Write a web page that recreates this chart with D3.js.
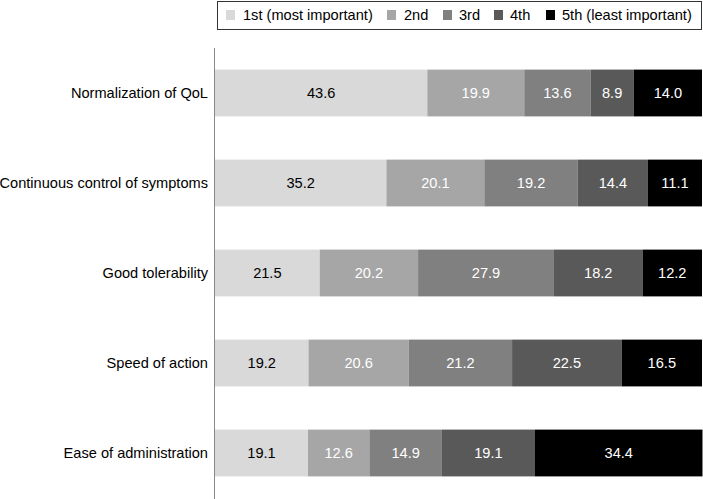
<!DOCTYPE html>
<html>
<head>
<meta charset="UTF-8">
<title>Treatment attributes ranking</title>
<script src="https://d3js.org/d3.v7.min.js"></script>
<style>
  body { margin: 0; background: #fff; }
  text { font-family: "Liberation Sans", Arial, sans-serif; }
</style>
</head>
<body>
<div id="chart"></div>
<script>
var categories = ["Normalization of QoL", "Continuous control of symptoms", "Good tolerability", "Speed of action", "Ease of administration"];
var seriesNames = ["1st (most important)", "2nd", "3rd", "4th", "5th (least important)"];
var first  = [43.6, 35.2, 21.5, 19.2, 19.1];
var second = [19.9, 20.1, 20.2, 20.6, 12.6];
var third  = [13.6, 19.2, 27.9, 21.2, 14.9];
var fourth = [8.9, 14.4, 18.2, 22.5, 19.1];
var fifth  = [14.0, 11.1, 12.2, 16.5, 34.4];

var colors = ["#d9d9d9", "#a6a6a6", "#808080", "#595959", "#000000"];
var textColors = ["#000", "#fff", "#fff", "#fff", "#fff"];

var W = 703, H = 499;
var svg = d3.select("#chart").append("svg").attr("width", W).attr("height", H);

var rows = categories.map(function (c, i) {
  return { cat: c, s0: first[i], s1: second[i], s2: third[i], s3: fourth[i], s4: fifth[i] };
});
var keys = ["s0", "s1", "s2", "s3", "s4"];
var stacked = d3.stack().keys(keys)(rows);

var x = d3.scaleLinear().domain([0, 100]).range([215, 702]);
var y = d3.scaleBand().domain(categories).range([48, 498]).paddingInner(0.48).paddingOuter(0.24);

// axis line
svg.append("line")
  .attr("x1", 214.5).attr("x2", 214.5)
  .attr("y1", 48).attr("y2", H)
  .attr("stroke", "#888").attr("stroke-width", 1);

var layers = svg.selectAll(".layer").data(stacked).enter().append("g")
  .attr("class", "layer");

layers.each(function (layer, li) {
  var g = d3.select(this);
  g.selectAll("rect").data(layer).enter().append("rect")
    .attr("x", function (d) { return x(d[0]); })
    .attr("y", function (d) { return y(d.data.cat); })
    .attr("width", function (d) { return x(d[1]) - x(d[0]); })
    .attr("height", y.bandwidth())
    .attr("fill", colors[li]);
  g.selectAll("text").data(layer).enter().append("text")
    .attr("x", function (d) { return (x(d[0]) + x(d[1])) / 2; })
    .attr("y", function (d) { return y(d.data.cat) + y.bandwidth() / 2; })
    .attr("dy", "0.35em")
    .attr("text-anchor", "middle")
    .attr("font-size", 14.6)
    .attr("fill", textColors[li])
    .text(function (d) { return (d[1] - d[0]).toFixed(1); });
});

// category labels
svg.selectAll(".cat").data(categories).enter().append("text")
  .attr("class", "cat")
  .attr("x", 208)
  .attr("y", function (d) { return y(d) + y.bandwidth() / 2; })
  .attr("dy", "0.35em")
  .attr("text-anchor", "end")
  .attr("font-size", 14.6)
  .attr("fill", "#000")
  .text(function (d) { return d; });

// legend
var legend = svg.append("g");
legend.append("rect")
  .attr("x", 217.5).attr("y", 1.5)
  .attr("width", 484).attr("height", 28)
  .attr("fill", "#fff").attr("stroke", "#333").attr("stroke-width", 1);

var legX = [226, 387, 443, 494, 546];
var items = legend.selectAll(".item").data(seriesNames).enter().append("g")
  .attr("transform", function (d, i) { return "translate(" + legX[i] + ",0)"; });
items.append("rect")
  .attr("x", 0).attr("y", 10)
  .attr("width", 9).attr("height", 10)
  .attr("fill", function (d, i) { return colors[i]; });
items.append("text")
  .attr("x", function (d, i) { return i < 2 ? 17 : 16; })
  .attr("y", 15).attr("dy", "0.35em")
  .attr("font-size", 14.6)
  .attr("fill", "#000")
  .text(function (d) { return d; });
</script>
</body>
</html>
